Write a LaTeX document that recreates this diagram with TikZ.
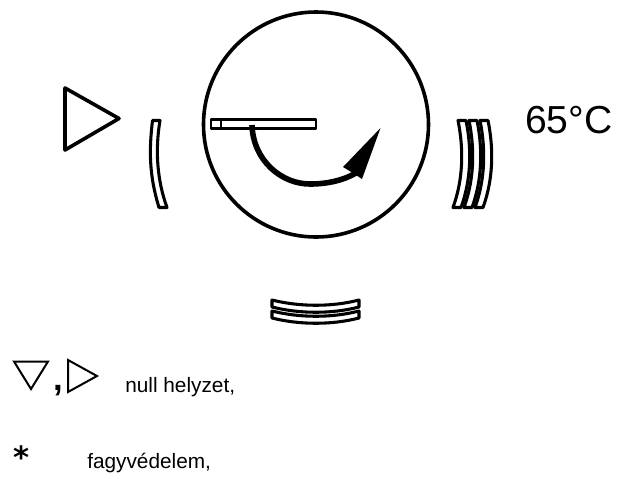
\documentclass[tikz,border=0pt]{standalone}
\usepackage{fontspec}
\setmainfont{Liberation Sans}
\newfontfamily\symfont{DejaVu Sans}
\tikzset{
    mark line/.style={line width=2.7pt, line join=round},
    tick line/.style={line width=2.3pt, line join=round},
    thin line/.style={line width=1.5pt, line join=miter},
}
\begin{document}
\begin{tikzpicture}[x=0.75pt, y=-0.75pt]
    \useasboundingbox (0,0) rectangle (635,476);
    \draw[mark line] (316,124.5) circle (112.5);
    \draw[mark line] (65,88) -- (119,118.5) -- (65,150) -- cycle;
    \draw[line width=2pt, line join=round] (211,119.5) rectangle (316,128.5);
    \draw[line width=1pt] (221,119.5) -- (221,128.5);
    \draw[line width=4.2pt] (252,125) .. controls (253,160) and (281,184) .. (310,184) .. controls (326,184) and (342,181) .. (356,173);
    \fill (380.5,128) -- (343,167) -- (353,173) -- (362,179) -- cycle;
    \draw[tick line] (152.5,120.5) -- (160,120.5) .. controls (155,150) and (157,180) .. (167,207.5) -- (159,207.5) .. controls (149,175) and (149,150) .. (152.5,120.5) -- cycle;
    \foreach \dx in {0,11,22}
        \draw[tick line, fill=white] (458+\dx,120.5) -- (466+\dx,120.5) .. controls (472+\dx,150) and (471+\dx,180) .. (461+\dx,207.5) -- (453+\dx,207.5) .. controls (463+\dx,180) and (464+\dx,150) .. (458+\dx,120.5) -- cycle;
    \foreach \dy in {0,11}
        \draw[tick line, fill=white] (272,300+\dy) .. controls (300,307+\dy) and (332,307+\dy) .. (359,300+\dy) -- (359,307+\dy) .. controls (332,314+\dy) and (300,314+\dy) .. (272,307+\dy) -- cycle;
    \node (temp) at (525,133) [anchor=base west, inner sep=0pt, font=\fontsize{29.3}{30}\selectfont] {65°C};
    \draw[thin line] (14,361.5) -- (48,361.5) -- (31,389) -- cycle;
    \draw[thin line] (68,360) -- (97,376) -- (68,392) -- cycle;
    \node (comma) at (53,390) [anchor=base west, inner sep=0pt, font=\bfseries\fontsize{26}{26}\selectfont] {,};
    \node (null) at (125,392) [anchor=base west, inner sep=0pt, font=\fontsize{15.6}{16}\selectfont] {null helyzet,};
    \node (star) at (21.5,468.5) [anchor=base, inner sep=0pt, font=\symfont\bfseries\fontsize{23}{23}\selectfont] {*};
    \node (fagy) at (87,468) [anchor=base west, inner sep=0pt, font=\fontsize{15.6}{16}\selectfont] {fagyvédelem,};
\end{tikzpicture}
\end{document}
